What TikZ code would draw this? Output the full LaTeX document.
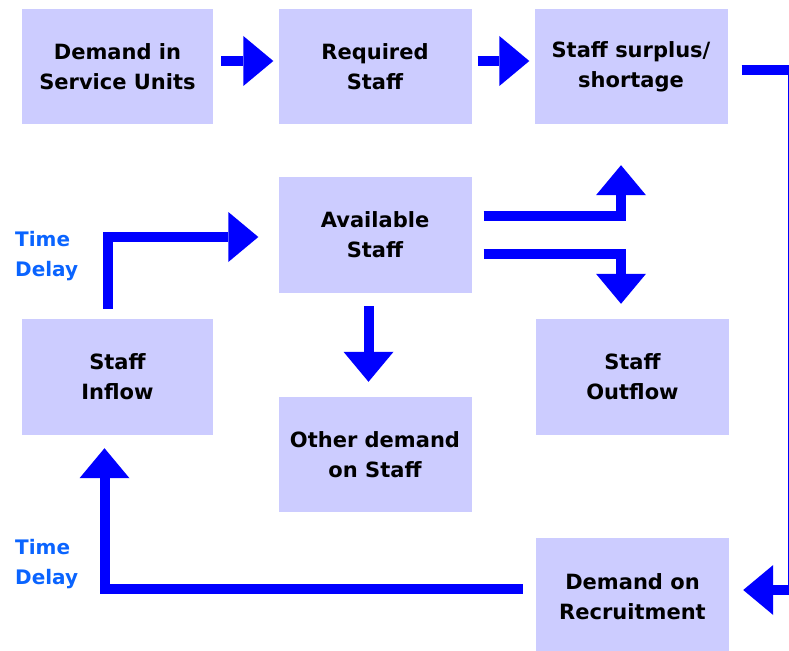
\documentclass[tikz,border=0pt]{standalone}
\usepackage{fontspec}
\setmainfont{DejaVu Sans}
\usetikzlibrary{arrows.meta}
\definecolor{boxfill}{RGB}{204,204,255}
\definecolor{arrowblue}{RGB}{0,0,255}
\definecolor{delayblue}{RGB}{10,100,255}
\begin{document}
\begin{tikzpicture}[x=1pt,y=-1pt,
  stepbox/.style={fill=boxfill, draw=none, minimum width=193pt, minimum height=115pt,
    align=center, inner sep=0pt, font=\fontsize{21}{30}\selectfont\bfseries},
  flow/.style={draw=arrowblue, line width=10pt, line join=miter,
    -{Triangle[width=50pt,length=30pt,line width=0pt]}, arrowblue},
  plainflow/.style={draw=arrowblue, line width=10pt, line join=miter},
  delay/.style={text=delayblue, align=left, inner sep=0pt, anchor=west,
    font=\fontsize{20}{29.5}\selectfont\bfseries}]
\useasboundingbox (0,0) rectangle (789,650);

\node[stepbox, minimum width=191pt] (b1) at (117.5,66.5) {Demand in\\Service Units};
\node[stepbox] (b2) at (375,66.5) {Required\\Staff};
\node[stepbox] (b3) at (631,66.5) {Staff surplus/\\shortage};
\node[stepbox, minimum height=116pt] (b4) at (375,235) {Available\\Staff};
\node[stepbox, minimum width=191pt, minimum height=116pt] (b5) at (117.5,377) {Staff\\Inflow};
\node[stepbox, minimum height=116pt] (b6) at (632.5,377) {Staff\\Outflow};
\node[stepbox] (b7) at (375,454.5) {Other demand\\on Staff};
\node[stepbox, minimum height=118pt] (b8) at (632.5,597) {Demand on\\Recruitment};

\node[delay] (d1) at (15,256) {Time\\Delay};
\node[delay] (d2) at (15,564) {Time\\Delay};

% top row
\draw[flow] ([xshift=8pt,yshift=5.5pt]b1.east) -- ([xshift=-5pt,yshift=5.5pt]b2.west);
\draw[flow] ([xshift=6pt,yshift=5.5pt]b2.east) -- ([xshift=-5pt,yshift=5.5pt]b3.west);
% feedback down the right edge
\draw[flow] ([xshift=14pt,yshift=-4pt]b3.east) -- ++(51,0) |- ([xshift=14pt,yshift=7pt]b8.east);
% available -> other demand
\draw[flow] ([xshift=-6.5pt,yshift=-13pt]b4.south) -- ([xshift=-6.5pt,yshift=15pt]b7.north);
% available -> surplus (up)
\draw[flow] ([xshift=12pt,yshift=19.5pt]b4.east) -| ([xshift=-10pt,yshift=-41pt]b3.south);
% available -> outflow (down)
\draw[flow] ([xshift=12pt,yshift=-19pt]b4.east) -| ([xshift=-11.5pt,yshift=15pt]b6.north);
% inflow -> available
\draw[flow] ([xshift=-9.5pt,yshift=10pt]b5.north) |- ([xshift=-20pt,yshift=-2pt]b4.west);
% recruitment -> inflow
\draw[flow] ([xshift=-13pt,yshift=8pt]b8.west) -| ([xshift=-13pt,yshift=-13pt]b5.south);
\end{tikzpicture}
\end{document}
